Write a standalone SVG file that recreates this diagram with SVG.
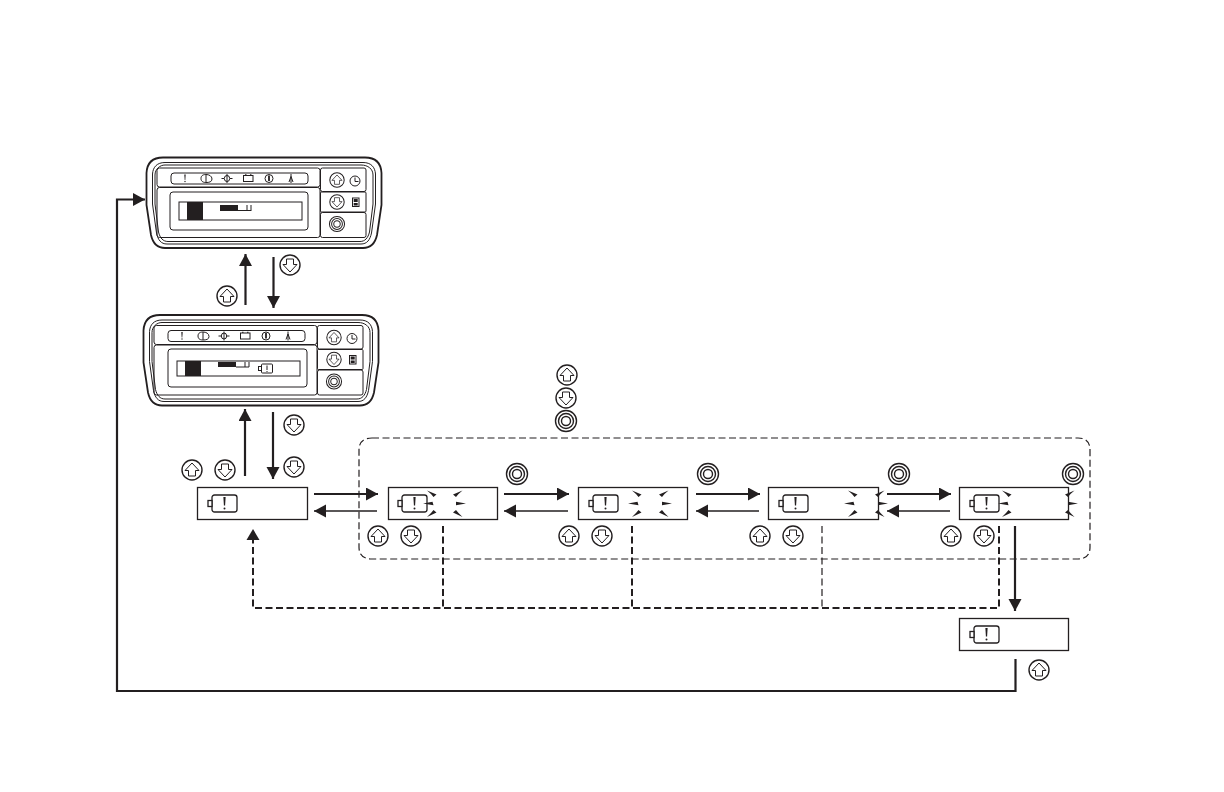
<svg xmlns="http://www.w3.org/2000/svg" width="1224" height="792" viewBox="0 0 1224 792">
<style>
.l{fill:none;stroke:#231f20;stroke-width:1}
.o{fill:none;stroke:#231f20;stroke-width:1.8}
.w{fill:#fff;stroke:#231f20;stroke-width:1}
.k{fill:#231f20;stroke:none}
.box{fill:#fff;stroke:#231f20;stroke-width:1.3}
.btn{fill:#fff;stroke:#231f20;stroke-width:1.4}
.ar{fill:#fff;stroke:#231f20;stroke-width:1}
.ring{fill:#fff;stroke:#231f20;stroke-width:1.4}
.batb{fill:#fff;stroke:#231f20;stroke-width:1.3}
.thick{fill:none;stroke:#231f20;stroke-width:2.2}
.thin{fill:none;stroke:#231f20;stroke-width:1.3}
.d1{fill:none;stroke:#231f20;stroke-width:2;stroke-dasharray:7 3.5}
.d2{fill:none;stroke:#231f20;stroke-width:1.2;stroke-dasharray:7 3.5}
</style>
<defs>
<marker id="ah" markerUnits="userSpaceOnUse" markerWidth="13" markerHeight="14" refX="12" refY="6.500" orient="auto"><path d="M0 0L12 6.500L0 13Z" fill="#231f20"/></marker>
<g id="up"><circle class="btn" r="10"/><path class="ar" d="M0-7L7 .5H3.500V6H-3.500V.5H-7Z"/></g>
<g id="down"><circle class="btn" r="10"/><path class="ar" d="M0 7L7-.5H3.500V-6H-3.500V-.5H-7Z"/></g>
<g id="ok"><circle class="ring" r="10.500"/><circle class="ring" r="7.500"/><circle class="ring" r="4.500"/></g>
<g id="bat"><rect class="batb" x="0" y="0" width="25" height="17" rx="2.500"/><rect class="batb" x="-4" y="5.500" width="4" height="6"/><path class="k" d="M11.400 2H13.600L13.100 10.500H11.900Z"/><circle class="k" cx="12.500" cy="13.500" r="1"/></g>
<g id="fl"><path class="k" d="M0-13L9.500-9L6.500-6.500L4-9.500ZM-4 0L5.500-1.800L6.500 1.800ZM0 13.500L9.500 9L6.500 6.500L4 9.500Z"/></g>
<g id="fr"><path class="k" d="M9.500-13L0-9L3-6.500L5.500-9.500ZM3-1.800L13 0L3 1.800ZM9.500 13.500L0 9L3 6.500L5.500 9.500Z"/></g>
<g id="panel">
<path class="o" fill="#fff" d="M163 157.500H365C376 157.500 381 164 381.500 173V205L377 235C375 244 371 248 363 248H165C157 248 153 244 151 235L146.500 205V173C147 164 152 157.500 163 157.500Z"/>
<path class="l" d="M165 162.500H363C371 162.500 375 167 375.500 174V204L371.500 233C370 240 367 244 361 244H167C161 244 158 240 156.500 233L152.500 204V174C153 167 157 162.500 165 162.500Z"/>
<path class="l" d="M165 165H361C368 165 373 169 373 175V204L369.500 232C368 238 365 241.500 360 241.500H168C163 241.500 160 238 158.500 232L155 204V175C155 169 160 165 165 165Z"/>
<rect class="l" x="157" y="168" width="163" height="19" rx="2.500"/>
<rect class="l" x="157" y="187.500" width="163" height="50" rx="2.500"/>
<rect class="l" x="320.500" y="168" width="45.500" height="23.500" rx="2"/>
<rect class="l" x="320.500" y="192" width="45.500" height="20" rx="1"/>
<rect class="l" x="320.500" y="212.500" width="45.500" height="25" rx="2"/>
<rect class="l" x="171" y="173" width="137" height="11" rx="3"/>
<path class="k" d="M184.300 174.500H185.700L185.300 180H184.700Z"/><circle class="k" cx="185" cy="181.500" r=".7"/>
<path class="l" d="M201 178.500C201 175 204 174.500 206 174.500C209 174.500 212 176 212 179C212 182 209 182.500 206 182.500C204 182.500 201 182 201 178.500ZM206 174.500V182.500"/>
<ellipse class="l" cx="227" cy="178.500" rx="2.700" ry="3"/><path class="l" d="M221.500 178.500H224M230 178.500H232.500M227 174V183"/>
<rect class="l" x="243.500" y="175.500" width="9.500" height="6"/><path class="l" d="M245 174.800H246.500M250 174.800H251.500"/>
<circle class="l" cx="269" cy="178.500" r="4"/><path class="o" d="M269 175.500V181"/>
<path class="l" d="M291 174V183M289 182L291 176.500L293 182"/>
<g transform="translate(337 180) scale(.72)"><use href="#up"/></g>
<g transform="translate(337 202) scale(.72)"><use href="#down"/></g>
<g transform="translate(337 224) scale(.72)"><use href="#ok"/></g>
<circle class="l" cx="355" cy="181" r="5"/><path class="l" d="M355 177.500V181.500H358.500"/>
<rect class="l" x="352.500" y="198" width="6.500" height="8.500"/><rect class="k" x="353.700" y="199" width="4" height="3"/><rect class="k" x="353.700" y="203" width="4" height="2.500"/>
</g>
</defs>

<g id="connectors">
<path class="thick" marker-end="url(#ah)" d="M245.500 305V254"/>
<path class="thick" marker-end="url(#ah)" d="M273.500 257V308"/>
<path class="thick" marker-end="url(#ah)" d="M245 476V409"/>
<path class="thick" marker-end="url(#ah)" d="M273 412V479"/>
<path class="thick" marker-end="url(#ah)" d="M314 494H378"/>
<path class="thin" marker-end="url(#ah)" d="M377 511H314"/>
<path class="thick" marker-end="url(#ah)" d="M504 494H569"/>
<path class="thin" marker-end="url(#ah)" d="M568 511H504"/>
<path class="thick" marker-end="url(#ah)" d="M696 494H760"/>
<path class="thin" marker-end="url(#ah)" d="M759 511H696"/>
<path class="thick" marker-end="url(#ah)" d="M887 494H951"/>
<path class="thin" marker-end="url(#ah)" d="M950 511H887"/>
<path class="d2" d="M372 438H1078Q1090 438 1090 450V547Q1090 559 1078 559H372Q359 559 359 547V450Q359 438 372 438Z"/>
<path class="d1" d="M443 526V608"/>
<path class="d1" d="M632 526V608"/>
<path class="d2" d="M822 526V608"/>
<path class="d1" d="M999 526V608H253V540"/>
<path class="k" d="M253 529L259.500 540H246.500Z"/>
<path class="thick" marker-end="url(#ah)" d="M1015 526V611"/>
<path class="thick" marker-end="url(#ah)" d="M1015.500 659V691H117V199.500H145"/>
</g>

<g id="panel-1">
<use href="#panel"/>
<rect class="l" x="170" y="192" width="138" height="38" rx="3"/>
<rect class="w" x="179" y="202" width="123" height="18"/>
<rect class="k" x="187" y="202" width="16" height="18"/>
<path class="k" d="M220 205H238V211H220Z"/><path class="l" d="M238 210.500H251M247 205V211M251 205V211"/>
</g>
<g id="panel-2">
<use href="#panel" transform="translate(-3 157.500)"/>
<rect class="l" x="168" y="349" width="139" height="38" rx="3"/>
<rect class="w" x="177" y="361" width="123" height="15"/>
<rect class="k" x="185" y="361" width="16" height="15"/>
<path class="k" d="M218 362H236V367H218Z"/><path class="l" d="M236 367H249M245 362V367M249 362V367"/>
<rect class="l" x="261.500" y="364" width="11" height="9" rx="1"/><rect class="l" x="258.500" y="366.500" width="3" height="4"/><path class="k" d="M266.500 365.500H267.500V370H266.500ZM266.500 371H267.500V372H266.500Z"/>
</g>

<g id="btn-a"><use href="#up" x="227" y="296"/><use href="#down" x="290" y="265"/></g>
<g id="btn-b"><use href="#down" x="294" y="425"/><use href="#down" x="294" y="467"/><use href="#up" x="192" y="470"/><use href="#down" x="225" y="470"/></g>
<g id="legend"><use href="#up" x="567" y="375"/><use href="#down" x="566" y="398"/><use href="#ok" x="566" y="421"/></g>

<g id="state-0"><rect class="box" x="197.500" y="487.500" width="110" height="32"/><use href="#bat" x="212" y="495"/></g>
<g id="state-1"><rect class="box" x="388.500" y="487.500" width="109" height="32"/><use href="#bat" x="402" y="495"/><use href="#fl" x="427" y="503.500"/><use href="#fr" x="453" y="503.500"/>
<use href="#up" x="378" y="536"/><use href="#down" x="411" y="536"/><use href="#ok" x="517" y="474"/></g>
<g id="state-2"><rect class="box" x="578.500" y="487.500" width="109" height="32"/><use href="#bat" x="593" y="495"/><use href="#fl" x="632" y="503.500"/><use href="#fr" x="659" y="503.500"/>
<use href="#up" x="569" y="536"/><use href="#down" x="602" y="536"/><use href="#ok" x="708" y="474"/></g>
<g id="state-3"><rect class="box" x="768.500" y="487.500" width="110" height="32"/><use href="#bat" x="783" y="495"/><use href="#fl" x="848" y="503.500"/><use href="#fr" x="875" y="503.500"/>
<use href="#up" x="760" y="536"/><use href="#down" x="793" y="536"/><use href="#ok" x="899" y="474"/></g>
<g id="state-4"><rect class="box" x="959.500" y="487.500" width="109" height="32"/><use href="#bat" x="974" y="495"/><use href="#fl" x="1002" y="503.500"/><use href="#fr" x="1065" y="503.500"/>
<use href="#up" x="951" y="536"/><use href="#down" x="984" y="536"/><use href="#ok" x="1073" y="474"/></g>
<g id="state-5"><rect class="box" x="959.500" y="618.500" width="109" height="32"/><use href="#bat" x="974" y="626"/><use href="#up" x="1039" y="670"/></g>
</svg>
